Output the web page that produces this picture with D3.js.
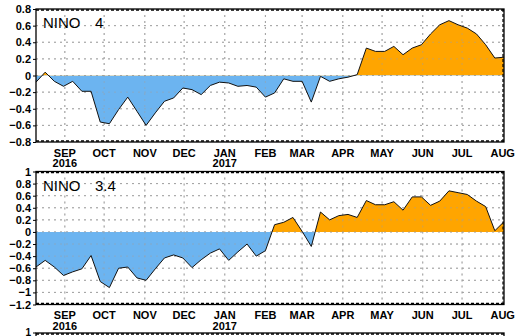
<!DOCTYPE html>
<html><head><meta charset="utf-8">
<script src="https://cdn.jsdelivr.net/npm/d3@7"></script>
<style>
html,body{margin:0;padding:0;background:#fff;}
svg{display:block;}
</style></head>
<body>
<script>
const dates = ["2016-08-10","2016-08-17","2016-08-24","2016-08-31","2016-09-07","2016-09-14","2016-09-21","2016-09-28",
"2016-10-05","2016-10-12","2016-10-19","2016-10-26","2016-11-02","2016-11-09","2016-11-16","2016-11-23","2016-11-30",
"2016-12-07","2016-12-14","2016-12-21","2016-12-28","2017-01-04","2017-01-11","2017-01-18","2017-01-25",
"2017-02-01","2017-02-08","2017-02-15","2017-02-22","2017-03-01","2017-03-08","2017-03-15","2017-03-22","2017-03-29",
"2017-04-05","2017-04-12","2017-04-19","2017-04-26","2017-05-03","2017-05-10","2017-05-17","2017-05-24","2017-05-31",
"2017-06-07","2017-06-14","2017-06-21","2017-06-28","2017-07-05","2017-07-12","2017-07-19","2017-07-26","2017-08-02"];

const nino4 = [-0.08,0.04,-0.07,-0.13,-0.07,-0.19,-0.19,-0.56,-0.58,-0.41,-0.26,-0.43,-0.60,-0.45,-0.31,-0.27,-0.15,
-0.17,-0.23,-0.12,-0.08,-0.09,-0.13,-0.12,-0.14,-0.26,-0.21,-0.04,-0.07,-0.07,-0.32,-0.01,-0.07,-0.04,-0.02,0.01,
0.33,0.29,0.29,0.35,0.25,0.33,0.37,0.50,0.61,0.66,0.61,0.57,0.50,0.37,0.21,0.22];

const nino34 = [-0.58,-0.47,-0.58,-0.72,-0.66,-0.61,-0.39,-0.82,-0.92,-0.60,-0.58,-0.76,-0.80,-0.61,-0.43,-0.38,-0.43,
-0.59,-0.46,-0.35,-0.28,-0.47,-0.33,-0.20,-0.40,-0.31,0.12,0.16,0.24,0.01,-0.24,0.33,0.20,0.27,0.29,0.24,
0.52,0.45,0.45,0.50,0.36,0.58,0.58,0.44,0.51,0.68,0.65,0.62,0.51,0.42,0.02,0.17];

const monthTicks = ["2016-09-01","2016-10-01","2016-11-01","2016-12-01","2017-01-01","2017-02-01","2017-03-01",
"2017-04-01","2017-05-01","2017-06-01","2017-07-01","2017-08-01"];
const monthLabels = ["SEP","OCT","NOV","DEC","JAN","FEB","MAR","APR","MAY","JUN","JUL","AUG"];
const yearTicks = ["2016-09-01","2017-01-01"];
const yearLabels = ["2016","2017"];

const nino4Ticks = [-0.8,-0.6,-0.4,-0.2,0,0.2,0.4,0.6,0.8];
const nino34Ticks = [-1.2,-1,-0.8,-0.6,-0.4,-0.2,0,0.2,0.4,0.6,0.8,1];
const titles = [["NINO","4"],["NINO","3.4"]];

const W = 519, H = 336;
const parse = d3.timeParse("%Y-%m-%d");
const svg = d3.select("body").append("svg").attr("width", W).attr("height", H);
const L = 36, R = 504;
const x = d3.scaleTime().domain([parse(dates[0]), parse(dates[dates.length-1])]).range([L, R]);
const fmt = v => v === 0 ? "0" : (v < 0 ? "\u2212" : "") + d3.format("~g")(Math.abs(v));

const font = "'Liberation Sans', Arial, sans-serif";

function panel(idx, values, ticks, top, bottom) {
  const g = svg.append("g");
  const y = d3.scaleLinear().domain([ticks[0], ticks[ticks.length-1]]).range([bottom, top]);
  const data = dates.map((d,i) => ({date: parse(d), v: values[i]}));
  const y0 = y(0);
  g.selectAll(".hg").data(ticks.slice(1, -1)).join("line")
    .attr("x1", L).attr("x2", R).attr("y1", d => y(d)).attr("y2", d => y(d))
    .attr("stroke", "#a8a8a8").attr("stroke-width", 1).attr("stroke-dasharray", "2,4");
  g.selectAll(".vg").data(monthTicks.slice(0, -1)).join("line")
    .attr("x1", d => x(parse(d))).attr("x2", d => x(parse(d))).attr("y1", top).attr("y2", bottom)
    .attr("stroke", "#a8a8a8").attr("stroke-width", 1).attr("stroke-dasharray", "2,4");
  const cp = "pos" + idx, cn = "neg" + idx;
  const defs = svg.append("defs");
  defs.append("clipPath").attr("id", cp).append("rect").attr("x", L).attr("y", top).attr("width", R - L).attr("height", y0 - top);
  defs.append("clipPath").attr("id", cn).append("rect").attr("x", L).attr("y", y0).attr("width", R - L).attr("height", bottom - y0);
  const area = d3.area().x(d => x(d.date)).y0(y0).y1(d => y(d.v));
  g.append("path").datum(data).attr("d", area).attr("fill", "#FFA500").attr("clip-path", `url(#${cp})`);
  g.append("path").datum(data).attr("d", area).attr("fill", "#6CB4F0").attr("clip-path", `url(#${cn})`);
  g.selectAll(".hg2").data(ticks.slice(1, -1)).join("line")
    .attr("x1", L).attr("x2", R).attr("y1", d => y(d)).attr("y2", d => y(d))
    .attr("stroke", "#a0a0a0").attr("stroke-opacity", 0.5).attr("stroke-width", 1).attr("stroke-dasharray", "2,4");
  g.selectAll(".vg2").data(monthTicks.slice(0, -1)).join("line")
    .attr("x1", d => x(parse(d))).attr("x2", d => x(parse(d))).attr("y1", top).attr("y2", bottom)
    .attr("stroke", "#a0a0a0").attr("stroke-opacity", 0.5).attr("stroke-width", 1).attr("stroke-dasharray", "2,4");
  g.append("path").datum(data).attr("d", d3.line().x(d => x(d.date)).y(d => y(d.v)))
    .attr("fill", "none").attr("stroke", "#111").attr("stroke-width", 1);
  g.append("rect").attr("x", L).attr("y", top).attr("width", R - L).attr("height", bottom - top)
    .attr("fill", "none").attr("stroke", "#000").attr("stroke-width", 1.3);
  [top + 1, bottom - 1].forEach(yy => {
    g.append("line").attr("x1", L).attr("x2", R).attr("y1", yy).attr("y2", yy)
      .attr("stroke", "#000").attr("stroke-width", 1.5).attr("stroke-dasharray", "3,2");
  });
  g.append("line").attr("x1", R - 1).attr("x2", R - 1).attr("y1", top).attr("y2", bottom)
    .attr("stroke", "#000").attr("stroke-width", 1.2).attr("stroke-dasharray", "3,2");
  const ya = d3.axisLeft(y).tickValues(ticks).tickSize(3).tickFormat(fmt);
  const ag = g.append("g").attr("transform", `translate(${L},0)`).call(ya);
  ag.select(".domain").remove();
  ag.selectAll("line").attr("stroke", "#000");
  ag.selectAll("text").attr("font-family", font).attr("font-weight", "bold").attr("font-size", "11px")
    .attr("fill", "#000").attr("dx", "1");
  g.selectAll(".ml").data(monthTicks).join("text")
    .attr("x", d => x(parse(d))).attr("y", bottom + 14.5).attr("text-anchor", "middle")
    .attr("font-family", font).attr("font-weight", "bold").attr("font-size", "11px").text((d,i) => monthLabels[i]);
  g.selectAll(".yl").data(yearTicks).join("text")
    .attr("x", d => x(parse(d))).attr("y", bottom + 25).attr("text-anchor", "middle")
    .attr("font-family", font).attr("font-weight", "bold").attr("font-size", "11px").text((d,i) => yearLabels[i]);
  const t = titles[idx];
  g.append("text").attr("x", 43).attr("y", top + 19).attr("font-family", font).attr("font-size", "15px").text(t[0]);
  g.append("text").attr("x", 95).attr("y", top + 19).attr("font-family", font).attr("font-size", "15px").text(t[1]);
}

panel(0, nino4, nino4Ticks, 9, 142);
panel(1, nino34, nino34Ticks, 171.5, 304.5);

svg.append("rect").attr("x", L).attr("y", 333).attr("width", R - L).attr("height", 20)
  .attr("fill", "none").attr("stroke", "#000").attr("stroke-width", 1.3);
svg.append("line").attr("x1", L).attr("x2", R).attr("y1", 334).attr("y2", 334)
  .attr("stroke", "#000").attr("stroke-width", 1.5).attr("stroke-dasharray", "3,2");
svg.append("line").attr("x1", 33).attr("x2", L).attr("y1", 333).attr("y2", 333).attr("stroke", "#000");
svg.append("text").attr("x", 31).attr("y", 335.5).attr("text-anchor", "end")
  .attr("font-family", font).attr("font-weight", "bold").attr("font-size", "10px").text("1");
</script>
</body></html>
